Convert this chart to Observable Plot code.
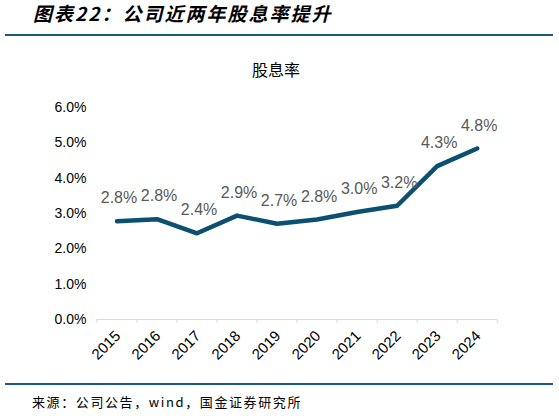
<!DOCTYPE html>
<html>
<head>
<meta charset="utf-8">
<script src="https://cdn.jsdelivr.net/npm/d3@7"></script>
<script src="https://cdn.jsdelivr.net/npm/@observablehq/plot@0.6"></script>
<style>
  body { margin: 0; background: #fff; }
  #wrap { position: relative; width: 559px; height: 416px; overflow: hidden; }
  #wrap svg { position: absolute; left: 0; top: 0; }
  .title { position: absolute; left: 33px; top: 3px; font: italic bold 19px/1 "Noto Sans CJK SC", sans-serif; color: #000; letter-spacing: 2px; white-space: nowrap; }
  .rule { position: absolute; left: 5px; width: 548px; height: 2px; background: #1b5a80; }
  .sub { position: absolute; left: 0; width: 552px; top: 61px; text-align: center; font: 16px/1 "Noto Sans CJK SC", serif; color: #000; }
  .src { position: absolute; left: 32px; top: 395px; font: 13px/1 "Noto Sans CJK SC", monospace; letter-spacing: 1.6px; color: #000; white-space: nowrap; }
</style>
</head>
<body>
<div id="wrap">
  <div class="title">图表22：公司近两年股息率提升</div>
  <div class="rule" style="top:34px"></div>
  <div class="sub">股息率</div>
  <div class="rule" style="top:383px"></div>
  <div class="src">来源：公司公告，wind，国金证券研究所</div>
</div>
<script>
const years = [2015, 2016, 2017, 2018, 2019, 2020, 2021, 2022, 2023, 2024];
const yieldPct = [2.78, 2.84, 2.44, 2.94, 2.71, 2.83, 3.04, 3.22, 4.34, 4.84];
const yTicks = [0, 1, 2, 3, 4, 5, 6];

const data = years.map((y, i) => ({year: y, value: yieldPct[i]}));
const bounds = [...years.map(y => y - 0.5), years[years.length - 1] + 0.5];

let chart = Plot.plot({
  width: 559,
  height: 416,
  marginLeft: 96.5,
  marginRight: 62.3,
  marginTop: 107,
  marginBottom: 97,
  style: {fontFamily: '"Liberation Sans", Arial, sans-serif', fontSize: '14px', color: '#000'},
  x: {domain: [bounds[0], bounds[bounds.length - 1]], axis: null},
  y: {domain: [0, 6], axis: null},
  marks: [
    Plot.axisY({ticks: yTicks, tickFormat: d => d.toFixed(1) + '%', tickSize: 0, tickPadding: 10.5, fontSize: 14, fill: '#000', label: null}),
    Plot.ruleY([0], {stroke: '#d9d9d9', strokeWidth: 1}),
    Plot.axisX({ticks: bounds, tickFormat: () => '', tickSize: 4, stroke: '#d9d9d9', strokeOpacity: 1, label: null}),
    Plot.axisX({ticks: years, tickFormat: d => String(d), tickSize: 0, tickPadding: 14, dx: 1, tickRotate: -45, fontSize: 15, fill: '#000', label: null}),
    Plot.line(data, {x: 'year', y: 'value', stroke: '#0b4f71', strokeWidth: 4.5, strokeLinejoin: 'round'}),
    Plot.text(data, {x: 'year', y: 'value', text: d => d.value.toFixed(1) + '%', dy: -23, dx: 2, fill: '#595959', fontSize: 16})
  ]
});
document.getElementById('wrap').prepend(chart);
</script>
</body>
</html>
